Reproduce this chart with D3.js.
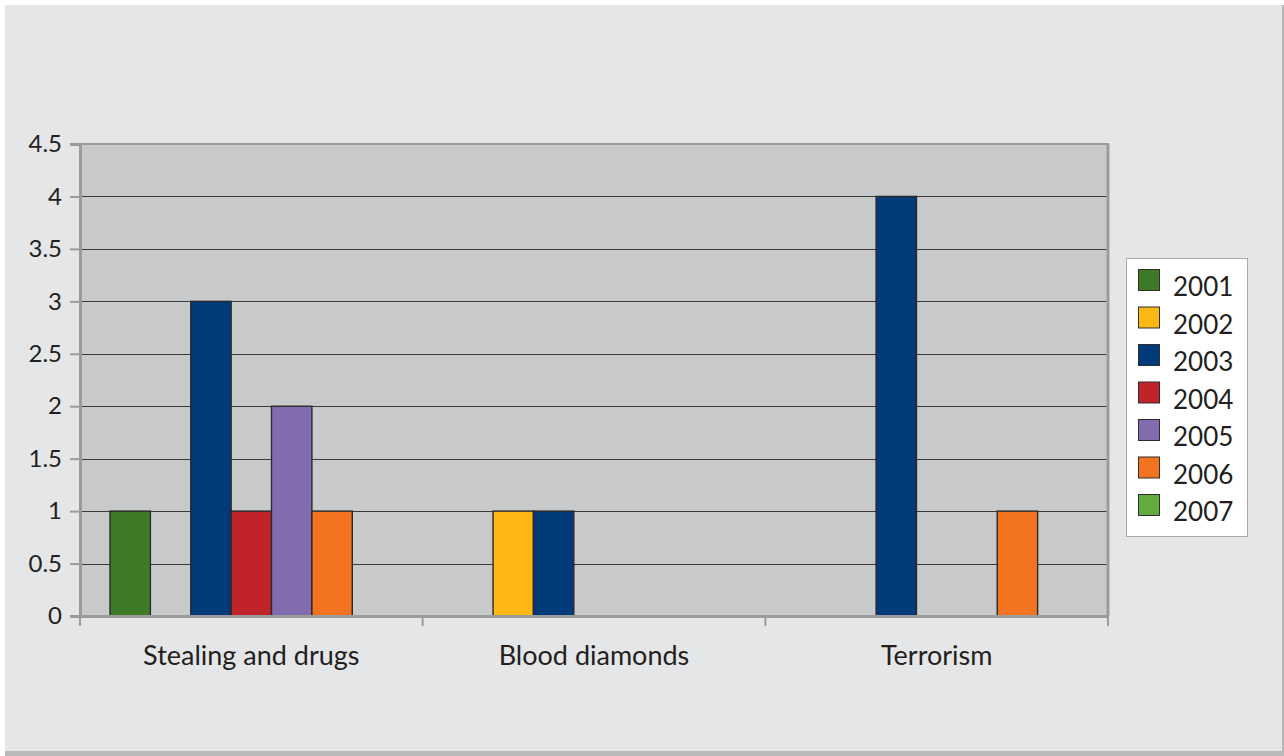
<!DOCTYPE html>
<html><head><meta charset="utf-8">
<script src="https://cdn.jsdelivr.net/npm/d3@7"></script>
<style>
html,body{margin:0;padding:0;background:#ffffff;}
svg{display:block;font-family:Lato,"Open Sans",sans-serif;}
</style></head>
<body>
<svg id="chart" width="1284" height="756"></svg>
<script>
const categories = ["Stealing and drugs", "Blood diamonds", "Terrorism"];
const years = ["2001","2002","2003","2004","2005","2006","2007"];
const colors = ["#3f7a29","#fdb813","#003a78","#c1232b","#826bae","#f47321","#62ac3d"];
const values = {
  "2001": [1, 0, 0],
  "2002": [0, 1, 0],
  "2003": [3, 1, 4],
  "2004": [1, 0, 0],
  "2005": [2, 0, 0],
  "2006": [1, 0, 1],
  "2007": [0, 0, 0]
};
const yTicks = [0,0.5,1,1.5,2,2.5,3,3.5,4,4.5];

const svg = d3.select("#chart");
// backgrounds
svg.append("rect").attr("x",0).attr("y",0).attr("width",1284).attr("height",756).attr("fill","#ffffff");
svg.append("rect").attr("x",5).attr("y",5).attr("width",1279).attr("height",751).attr("fill","#b8b9bb");
svg.append("rect").attr("x",5).attr("y",5).attr("width",1277).attr("height",746).attr("fill","#e5e6e8");

const m = {left:80, top:144, right:1108, bottom:616};
const x0 = d3.scaleBand().domain(categories).range([m.left, m.right]).paddingInner(0).paddingOuter(0);
const x1 = d3.scaleBand().domain(years).range([30, x0.bandwidth()-30]).paddingInner(0);
const y = d3.scaleLinear().domain([0,4.5]).range([m.bottom, m.top]);

// plot area
svg.append("rect").attr("x",m.left).attr("y",m.top).attr("width",m.right-m.left).attr("height",m.bottom-m.top).attr("fill","#c8c9cb");

// gridlines
svg.append("g").selectAll("line").data(yTicks.filter(d=>d>0 && d<4.5)).join("line")
  .attr("x1",m.left).attr("x2",m.right).attr("y1",d=>Math.round(y(d))+0.5).attr("y2",d=>Math.round(y(d))+0.5)
  .attr("stroke","#3a3a3a").attr("stroke-width",1);

// bars
const data = [];
categories.forEach((c,ci)=>years.forEach((yr,yi)=>{ if(values[yr][ci]>0) data.push({c, yr, v:values[yr][ci], col:colors[yi]}); }));
svg.append("g").selectAll("rect").data(data).join("rect")
  .attr("x",d=>x0(d.c)+x1(d.yr)).attr("width",x1.bandwidth())
  .attr("y",d=>y(d.v)).attr("height",d=>y(0)-y(d.v))
  .attr("fill",d=>d.col).attr("stroke","#2a2a2a").attr("stroke-width",1.4);

// frame: top, right
svg.append("line").attr("x1",m.left).attr("x2",m.right+1).attr("y1",m.top).attr("y2",m.top).attr("stroke","#9a9b9d").attr("stroke-width",2);
svg.append("line").attr("x1",m.right).attr("x2",m.right).attr("y1",m.top).attr("y2",m.bottom).attr("stroke","#9a9b9d").attr("stroke-width",3);

// y axis
const yAxis = d3.axisLeft(y).tickValues(yTicks).tickSize(10).tickPadding(8).tickFormat(d=>String(d));
const gy = svg.append("g").attr("transform",`translate(${m.left},0)`).call(yAxis);
gy.select(".domain").attr("stroke","#9a9b9d").attr("stroke-width",3);
gy.selectAll(".tick line").attr("stroke","#9a9b9d").attr("stroke-width",2);
gy.selectAll(".tick text").attr("fill","#231f20").attr("font-size",24).attr("font-family","Lato,'Open Sans',sans-serif");

// x axis
const xAxis = d3.axisBottom(x0).tickSize(0).tickPadding(30);
const gx = svg.append("g").attr("transform",`translate(0,${m.bottom})`).call(xAxis);
gx.select(".domain").attr("stroke","#9a9b9d").attr("stroke-width",3);
gx.selectAll(".tick text").attr("fill","#231f20").attr("font-size",27).attr("font-family","Lato,'Open Sans',sans-serif");
// category boundary ticks
const bounds = categories.map(c=>x0(c)).concat([m.right]);
svg.append("g").selectAll("line").data(bounds).join("line")
  .attr("x1",d=>d).attr("x2",d=>d).attr("y1",m.bottom).attr("y2",m.bottom+10)
  .attr("stroke","#9a9b9d").attr("stroke-width",2);

// legend
const lg = svg.append("g");
lg.append("rect").attr("x",1126.5).attr("y",258.5).attr("width",121).attr("height",278).attr("fill","#ffffff").attr("stroke","#a8a9ab").attr("stroke-width",1);
const li = lg.selectAll("g.item").data(years).join("g").attr("class","item")
  .attr("transform",(d,i)=>`translate(1138,${269 + i*37.5})`);
li.append("rect").attr("x",0.5).attr("y",0.5).attr("width",21).attr("height",21).attr("fill",(d,i)=>colors[i]).attr("stroke","#2e2e2e").attr("stroke-width",1);
li.append("text").attr("x",35).attr("y",18).attr("dy","0.35em").attr("font-size",26).attr("fill","#231f20").text(d=>d);
</script>
</body></html>
